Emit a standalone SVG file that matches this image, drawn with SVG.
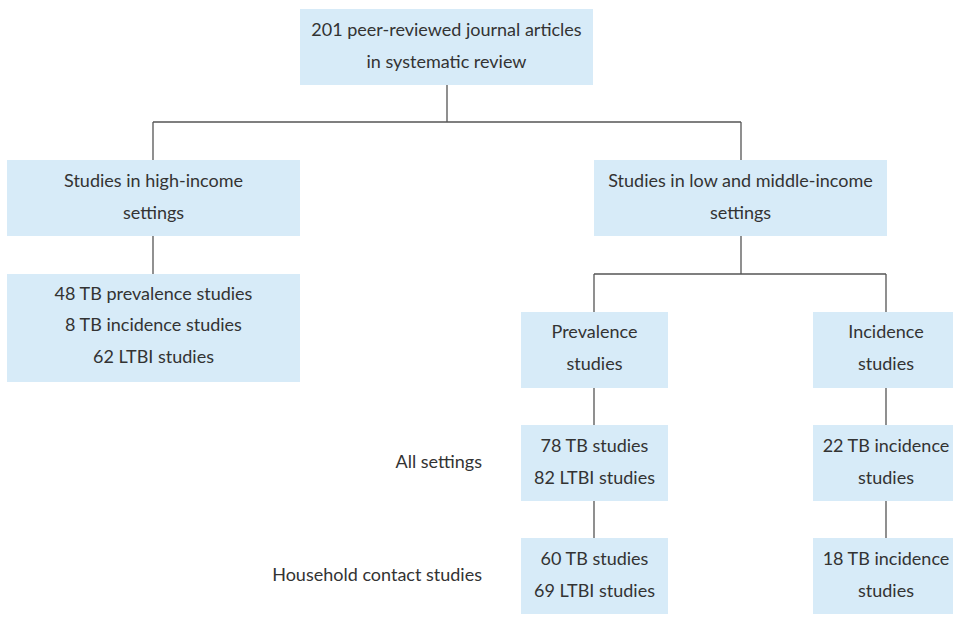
<svg xmlns="http://www.w3.org/2000/svg" width="953" height="629" viewBox="0 0 953 629">
<style>
.box{fill:#d7ebf8}
.t{font-family:Lato,"Liberation Sans",sans-serif;font-size:18px;fill:#333;text-anchor:middle}
.l{text-anchor:end}
.c{fill:none;stroke:#555;stroke-width:1.3}
</style>
<rect width="953" height="629" fill="#fff"/>
<g id="connectors" class="c">
<path d="M447 85V122M153 122H741M153 122V160M741 122V160"/>
<path d="M153 236V274"/>
<path d="M741 236V274M594 274H886M594 274V312M886 274V312"/>
<path d="M594 388V425M594 501V538"/>
<path d="M886 388V425M886 501V538"/>
</g>
<g id="n-root"><rect class="box" x="300" y="9" width="293" height="76"/>
<text class="t" x="446.5" y="36">201 peer-reviewed journal articles</text>
<text class="t" x="446.5" y="68">in systematic review</text></g>
<g id="n-high"><rect class="box" x="7" y="160" width="293" height="76"/>
<text class="t" x="153.5" y="187">Studies in high-income</text>
<text class="t" x="153.5" y="219">settings</text></g>
<g id="n-high-counts"><rect class="box" x="7" y="274" width="293" height="108"/>
<text class="t" x="153.5" y="300">48 TB prevalence studies</text>
<text class="t" x="153.5" y="331">8 TB incidence studies</text>
<text class="t" x="153.5" y="363">62 LTBI studies</text></g>
<g id="n-lmic"><rect class="box" x="594" y="160" width="293" height="76"/>
<text class="t" x="740.5" y="187">Studies in low and middle-income</text>
<text class="t" x="740.5" y="219">settings</text></g>
<g id="n-prev"><rect class="box" x="521" y="312" width="147" height="76"/>
<text class="t" x="594.5" y="338">Prevalence</text>
<text class="t" x="594.5" y="370">studies</text></g>
<g id="n-inc"><rect class="box" x="813" y="312" width="146" height="76"/>
<text class="t" x="886" y="338">Incidence</text>
<text class="t" x="886" y="370">studies</text></g>
<g id="n-prev-all"><rect class="box" x="521" y="425" width="147" height="76"/>
<text class="t" x="594.5" y="452">78 TB studies</text>
<text class="t" x="594.5" y="484">82 LTBI studies</text></g>
<g id="n-inc-all"><rect class="box" x="813" y="425" width="146" height="76"/>
<text class="t" x="886" y="452">22 TB incidence</text>
<text class="t" x="886" y="484">studies</text></g>
<g id="n-prev-hh"><rect class="box" x="521" y="538" width="147" height="76"/>
<text class="t" x="594.5" y="565">60 TB studies</text>
<text class="t" x="594.5" y="597">69 LTBI studies</text></g>
<g id="n-inc-hh"><rect class="box" x="813" y="538" width="146" height="76"/>
<text class="t" x="886" y="565">18 TB incidence</text>
<text class="t" x="886" y="597">studies</text></g>
<g id="row-labels">
<text class="t l" x="482" y="468">All settings</text>
<text class="t l" x="482" y="581">Household contact studies</text>
</g>
</svg>
